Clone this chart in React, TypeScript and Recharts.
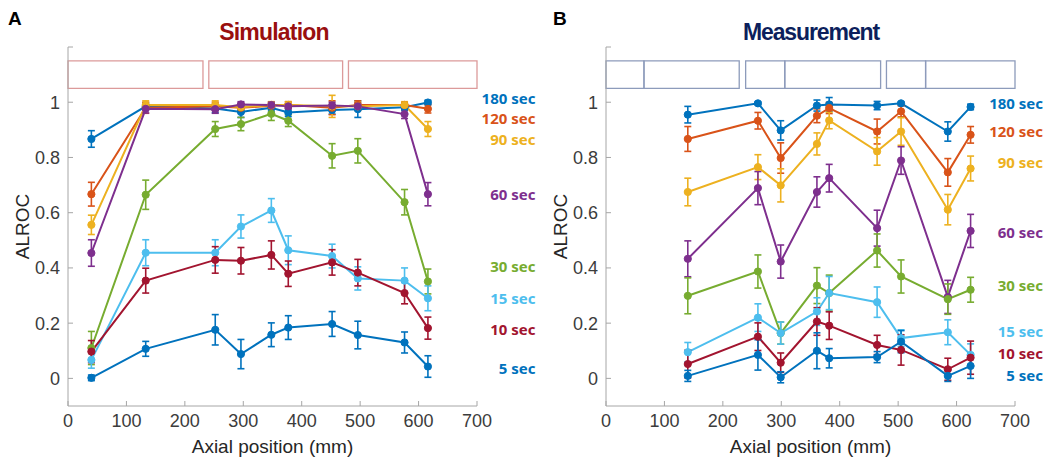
import { ErrorBar, Line, LineChart, ReferenceArea, ReferenceDot, XAxis, YAxis } from "recharts";

// axial positions of the sampling points (mm)
const simX = [40, 133, 252, 296, 348, 377, 452, 496, 576, 616];
const measX = [140, 260, 299, 361, 382, 464, 505, 585, 624];

// Simulation, ALROC mean and error
const sim180 = [0.867, 0.985, 0.977, 0.965, 0.98, 0.963, 0.972, 0.975, 0.982, 0.999];
const sim180Err = [0.03, 0.012, 0.015, 0.02, 0.012, 0.015, 0.015, 0.03, 0.012, 0.008];
const sim120 = [0.667, 0.98, 0.985, 0.98, 0.987, 0.99, 0.98, 0.99, 0.99, 0.976];
const sim120Err = [0.043, 0.02, 0.015, 0.015, 0.012, 0.012, 0.025, 0.015, 0.01, 0.015];
const sim90 = [0.556, 0.99, 0.99, 0.982, 0.99, 0.99, 0.985, 0.985, 0.99, 0.903];
const sim90Err = [0.035, 0.015, 0.015, 0.012, 0.012, 0.012, 0.04, 0.015, 0.012, 0.027];
const sim60 = [0.454, 0.976, 0.975, 0.992, 0.99, 0.985, 0.988, 0.985, 0.957, 0.667];
const sim60Err = [0.048, 0.015, 0.015, 0.01, 0.01, 0.01, 0.012, 0.012, 0.016, 0.042];
const sim30 = [0.11, 0.665, 0.903, 0.921, 0.958, 0.933, 0.806, 0.824, 0.638, 0.351];
const sim30Err = [0.06, 0.053, 0.027, 0.024, 0.024, 0.021, 0.044, 0.044, 0.046, 0.045];
const sim15 = [0.067, 0.455, 0.455, 0.55, 0.608, 0.464, 0.443, 0.362, 0.354, 0.29];
const sim15Err = [0.03, 0.047, 0.047, 0.042, 0.043, 0.052, 0.043, 0.042, 0.046, 0.045];
const sim10 = [0.097, 0.354, 0.429, 0.426, 0.447, 0.379, 0.42, 0.383, 0.309, 0.182];
const sim10Err = [0.04, 0.045, 0.048, 0.048, 0.051, 0.046, 0.046, 0.048, 0.039, 0.04];
const sim5 = [0.002, 0.107, 0.176, 0.088, 0.158, 0.184, 0.197, 0.157, 0.13, 0.043];
const sim5Err = [0.01, 0.027, 0.055, 0.053, 0.043, 0.043, 0.045, 0.05, 0.038, 0.039];

// Measurement, ALROC mean and error
const meas180 = [0.955, 0.996, 0.898, 0.988, 0.992, 0.988, 0.996, 0.894, 0.983];
const meas180Err = [0.03, 0.005, 0.035, 0.02, 0.025, 0.015, 0.005, 0.035, 0.01];
const meas120 = [0.867, 0.933, 0.798, 0.951, 0.979, 0.894, 0.967, 0.746, 0.882];
const meas120Err = [0.045, 0.03, 0.055, 0.025, 0.02, 0.045, 0.02, 0.05, 0.03];
const meas90 = [0.675, 0.765, 0.699, 0.849, 0.934, 0.822, 0.894, 0.611, 0.76];
const meas90Err = [0.05, 0.045, 0.06, 0.04, 0.03, 0.05, 0.05, 0.055, 0.045];
const meas60 = [0.433, 0.689, 0.423, 0.675, 0.725, 0.544, 0.789, 0.295, 0.534];
const meas60Err = [0.065, 0.06, 0.06, 0.055, 0.05, 0.065, 0.05, 0.06, 0.06];
const meas30 = [0.299, 0.387, 0.164, 0.336, 0.309, 0.463, 0.369, 0.287, 0.321];
const meas30Err = [0.065, 0.06, 0.04, 0.065, 0.065, 0.06, 0.06, 0.055, 0.045];
const meas15 = [0.095, 0.22, 0.164, 0.242, 0.309, 0.276, 0.146, 0.167, 0.085];
const meas15Err = [0.035, 0.05, 0.04, 0.05, 0.06, 0.055, 0.03, 0.045, 0.04];
const meas10 = [0.052, 0.151, 0.057, 0.206, 0.191, 0.121, 0.103, 0.033, 0.075];
const meas10Err = [0.05, 0.05, 0.035, 0.05, 0.05, 0.035, 0.055, 0.04, 0.06];
const meas5 = [0.009, 0.085, 0.004, 0.1, 0.073, 0.077, 0.133, 0.009, 0.045];
const meas5Err = [0.02, 0.055, 0.02, 0.065, 0.035, 0.02, 0.04, 0.02, 0.045];

// scan duration labels and where their text sits on the ALROC axis
const durations = ["180 sec", "120 sec", "90 sec", "60 sec", "30 sec", "15 sec", "10 sec", "5 sec"];
const simLabelY = [1.012, 0.94, 0.865, 0.665, 0.404, 0.288, 0.176, 0.034];
const measLabelY = [0.996, 0.893, 0.78, 0.527, 0.335, 0.168, 0.089, 0.009];

// detector blocks drawn above the curves (mm)
const simBlocks = [[0, 231], [241, 470], [480, 700]];
const measBlocks = [[0, 65], [65, 228], [239, 306], [306, 470], [480, 547], [547, 700]];

const xTicks = [0, 100, 200, 300, 400, 500, 600, 700];
const yTicks = [0, 0.2, 0.4, 0.6, 0.8, 1, 1.2];

const COLORS = ["#0072BD", "#D95319", "#EDB120", "#7E2F8E", "#77AC30", "#4DBEEE", "#A2142F", "#0072BD"];

const simSeries = [sim180, sim120, sim90, sim60, sim30, sim15, sim10, sim5];
const simErrs = [sim180Err, sim120Err, sim90Err, sim60Err, sim30Err, sim15Err, sim10Err, sim5Err];
const measSeries = [meas180, meas120, meas90, meas60, meas30, meas15, meas10, meas5];
const measErrs = [meas180Err, meas120Err, meas90Err, meas60Err, meas30Err, meas15Err, meas10Err, meas5Err];

function buildRows(xs: number[], series: number[][], errs: number[][]) {
  return xs.map((x, i) => {
    const row: Record<string, number> = { x };
    series.forEach((s, k) => {
      row[`v${k}`] = s[i];
      row[`e${k}`] = errs[k][i];
    });
    return row;
  });
}

const simRows = buildRows(simX, simSeries, simErrs);
const measRows = buildRows(measX, measSeries, measErrs);

const AXIS_FONT = "'Liberation Sans', Arial, sans-serif";
const tickStyle = { fill: "#3c3c3c", fontSize: 18, fontFamily: AXIS_FONT };

function Panel({
  rows,
  width,
  marginRight,
  blocks,
  blockColor,
  labelX,
  labelY,
}: {
  rows: Record<string, number>[];
  width: number;
  marginRight: number;
  blocks: number[][];
  blockColor: string;
  labelX: number;
  labelY: number[];
}) {
  return (
    <LineChart width={width} height={468} data={rows} margin={{ top: 47, right: marginRight, left: 8, bottom: 2 }}>
      <XAxis
        dataKey="x"
        type="number"
        domain={[0, 700]}
        ticks={xTicks}
        tick={tickStyle}
        stroke="#a6a6a6"
        tickSize={-5}
        tickMargin={13}
        height={60}
        label={{
          value: "Axial position (mm)",
          position: "insideBottom",
          offset: 13,
          style: { fill: "#262626", fontSize: 19, fontFamily: AXIS_FONT },
        }}
      />
      <YAxis
        type="number"
        domain={[-0.1, 1.2]}
        ticks={yTicks}
        tickFormatter={(v: number) => (v > 1.1 ? "" : String(+v.toFixed(1)))}
        tick={tickStyle}
        stroke="#a6a6a6"
        tickSize={-5}
        tickMargin={13}
        width={60}
        allowDataOverflow
        label={{
          value: "ALROC",
          angle: -90,
          position: "insideLeft",
          offset: 14,
          style: { fill: "#262626", fontSize: 19, fontFamily: AXIS_FONT, textAnchor: "middle" },
        }}
      />
      {blocks.map(([a, b]) => (
        <ReferenceArea
          key={`${a}-${b}`}
          x1={a}
          x2={b}
          y1={1.05}
          y2={1.15}
          fill="#ffffff"
          fillOpacity={0}
          stroke={blockColor}
          strokeWidth={1.3}
          ifOverflow="visible"
        />
      ))}
      {COLORS.map((color, k) => (
        <Line
          key={k}
          dataKey={`v${k}`}
          type="linear"
          stroke={color}
          strokeWidth={2}
          dot={{ r: 3.6, fill: color, stroke: color, strokeWidth: 1 }}
          activeDot={false}
          isAnimationActive={false}
        >
          <ErrorBar dataKey={`e${k}`} width={3.5} stroke={color} strokeWidth={1.6} isAnimationActive={false} />
        </Line>
      ))}
      {durations.map((text, k) => (
        <ReferenceDot
          key={text}
          x={labelX}
          y={labelY[k]}
          r={0}
          fill="none"
          stroke="none"
          ifOverflow="visible"
          label={{
            value: text,
            position: "left",
            offset: 0,
            style: { fill: COLORS[k], fontSize: 15, fontWeight: 700, fontFamily: "'Noto Sans', 'Open Sans', sans-serif" },
          }}
        />
      ))}
    </LineChart>
  );
}

const titleFont = "'Liberation Sans', Arial, sans-serif";

export default function App() {
  return (
    <div
      style={{
        position: "absolute",
        left: 0,
        top: 0,
        width: 1050,
        height: 468,
        background: "#ffffff",
        overflow: "hidden",
      }}
    >
      <div style={{ position: "absolute", left: 0, top: 0 }}>
        <Panel
          rows={simRows}
          width={540}
          marginRight={63}
          blocks={simBlocks}
          blockColor="#dc9a9a"
          labelX={800}
          labelY={simLabelY}
        />
      </div>
      <div style={{ position: "absolute", left: 538, top: 0 }}>
        <Panel
          rows={measRows}
          width={512}
          marginRight={35}
          blocks={measBlocks}
          blockColor="#8d9bbb"
          labelX={748}
          labelY={measLabelY}
        />
      </div>
      <div style={{ position: "absolute", left: 8, top: 9, fontFamily: titleFont, fontWeight: 700, fontSize: 19, lineHeight: "19px" }}>
        A
      </div>
      <div style={{ position: "absolute", left: 553, top: 9, fontFamily: titleFont, fontWeight: 700, fontSize: 19, lineHeight: "19px" }}>
        B
      </div>
      <div
        style={{
          position: "absolute",
          left: 174,
          width: 200,
          top: 21,
          textAlign: "center",
          fontFamily: titleFont,
          fontWeight: 700,
          fontSize: 23,
          lineHeight: "22px",
          letterSpacing: -0.8,
          color: "#990f0f",
        }}
      >
        Simulation
      </div>
      <div
        style={{
          position: "absolute",
          left: 711,
          width: 200,
          top: 21,
          textAlign: "center",
          fontFamily: titleFont,
          fontWeight: 700,
          fontSize: 23,
          lineHeight: "22px",
          letterSpacing: -1.1,
          color: "#0c1f5c",
        }}
      >
        Measurement
      </div>
    </div>
  );
}
